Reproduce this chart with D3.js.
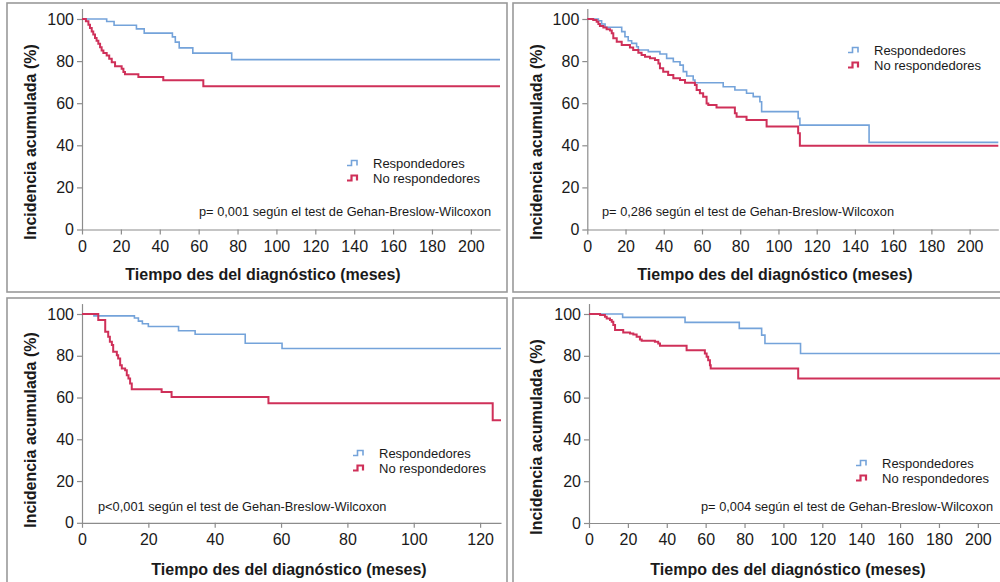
<!DOCTYPE html>
<html>
<head>
<meta charset="utf-8">
<script src="https://cdn.jsdelivr.net/npm/d3@7"></script>
<style>
body { margin: 0; background: #fff; }
svg text { font-family: "Liberation Sans", Arial, sans-serif; fill: #1a1a1a; }
.axis path, .axis line { stroke: #8c8c8c; stroke-width: 1.2; }
.title { font-weight: bold; font-size: 16px; }
.legend text { font-size: 13px; }
.ptext { font-size: 12.8px; }
</style>
</head>
<body>
<div class="chart"></div>
<script>
const WIDTH = 1000;
const HEIGHT = 582;
const BLUE = "#74a3da";
const RED = "#cf3059";

var seriesNames = ["Respondedores", "No respondedores"];
var xTitle = "Tiempo des del diagnóstico (meses)";
var yTitle = "Incidencia acumulada (%)";
var yTicks = [0, 20, 40, 60, 80, 100];
var xTicksLong = [0, 20, 40, 60, 80, 100, 120, 140, 160, 180, 200];
var xTicksShort = [0, 20, 40, 60, 80, 100, 120];
var xMaxLong = 215;
var xMaxShort = 126.3;
var pTexts = [
    "p= 0,001 según el test de Gehan-Breslow-Wilcoxon",
    "p= 0,286 según el test de Gehan-Breslow-Wilcoxon",
    "p<0,001 según el test de Gehan-Breslow-Wilcoxon",
    "p= 0,004 según el test de Gehan-Breslow-Wilcoxon"
];

// [meses, %] steps
var resp1 = [[0,100],[12.7,98.8],[16.5,97.0],[28,95.3],[32,93.3],[46.5,91.5],[48,89],[50,86.3],[57,83.8],[77,80.7]];
var noResp1 = [[0,100],[2,98.9],[3.3,97.3],[4.1,95.7],[5,94.1],[5.8,92.6],[6.7,91],[7.5,89.7],[8.4,88.2],[9.3,86.6],[10.1,85],[11,83.8],[12.7,82.7],[14,81.1],[15.3,79.5],[17,77.5],[20.4,76.4],[21.3,74.8],[22.1,73.7],[29,72.4],[41.8,70.9],[62.4,68]];

var resp2 = [[0,100],[5.8,99.2],[7.5,97.6],[9.3,96.1],[18,94],[19.7,91.6],[21.4,89.7],[23.2,88.4],[25.8,86.8],[26.7,85.3],[31.9,84.5],[38,83.4],[41.5,81.3],[45,79.7],[48.5,78.1],[50.2,75],[52,72.9],[55.4,71],[56.3,69.7],[71.1,67.8],[77.2,66.3],[83.3,64.7],[86.8,63.1],[90.3,60.7],[91.2,56],[110.3,52.8],[111.2,49.6],[147.4,41.4]];
var noResp2 = [[0,100],[3.1,99.5],[4.9,98.7],[5.8,97.6],[6.6,96.7],[8.4,96],[10.1,95.1],[11.9,94.5],[12.8,93.2],[13.6,90.8],[15.4,89.2],[18,87.6],[22.3,86.5],[24,85.3],[26.7,84],[28.4,82.9],[30.2,82.1],[32.8,81.3],[35.4,80.5],[37.2,78.9],[38,76.6],[39.7,75],[42.3,73.4],[45,71.8],[48.5,71],[51.1,69.7],[56.3,68.6],[57.2,66.3],[58.9,64.7],[60.6,63.1],[62.4,59.9],[63.3,59.1],[67.6,58],[77.2,55.2],[78.1,53.6],[83.3,52],[93.8,48.9],[110.3,45.7],[111.2,39.8]];

var resp3 = [[0,100],[3.6,99.1],[15.8,98.1],[17,96.6],[18.2,95.3],[20,94],[29.1,92],[34.1,90.3],[49.2,86],[60.3,83.5]];
var noResp3 = [[0,100],[4.9,97.1],[7,91.5],[7.9,89.1],[8.4,86.7],[9,85.1],[9.4,81.9],[10.5,80.3],[10.9,78.7],[11.5,75.5],[12,73.9],[13,73.1],[13.5,70.7],[14,69.1],[14.5,66.7],[15,64],[24,62.6],[27,60.3],[56.2,57.3],[123.8,49.1]];

var resp4 = [[0,100],[17.3,98.4],[49.4,96],[77.3,93.1],[88.8,89.9],[90.5,85.9],[108.8,81.1]];
var noResp4 = [[0,100],[5.7,99.5],[8.2,98.7],[9.1,97.9],[10.8,97.1],[11.7,96.3],[12.5,94.7],[13.4,92.3],[17.6,91.2],[21.1,90.7],[22.8,90.2],[24.5,89.1],[26.2,87.8],[27.1,87.2],[33.9,86.7],[35.6,85.9],[36.5,84.8],[50.2,82.7],[59.6,81.1],[60.5,79.5],[61.3,77.9],[62.2,75.5],[62.6,73.9],[107.6,69.1]];

// layout of each panel (offsets inside the panel box)
var panels = [
    { x: 7,   y: 3,   w: 500, h: 289, plotX: 75,   plotW: 418, y0: 226.5, y100: 16, xMax: xMaxLong,  ticks: xTicksLong,  resp: resp1, noResp: noResp1, p: pTexts[0], pX: 192, legX: 366, legY: 164.5, xtX: 256, ytY: 139 },
    { x: 513, y: 3,   w: 500, h: 289, plotX: 74.3, plotW: 411, y0: 226.5, y100: 16, xMax: xMaxLong,  ticks: xTicksLong,  resp: resp2, noResp: noResp2, p: pTexts[1], pX: 89,  legX: 361, legY: 51.5,  xtX: 262, ytY: 139 },
    { x: 7,   y: 298, w: 500, h: 300, plotX: 75,   plotW: 419, y0: 224.8, y100: 16, xMax: xMaxShort, ticks: xTicksShort, resp: resp3, noResp: noResp3, p: pTexts[2], pX: 91,  legX: 372, legY: 159.5, xtX: 282, ytY: 132 },
    { x: 513, y: 298, w: 500, h: 300, plotX: 76,   plotW: 418, y0: 225,   y100: 16, xMax: xMaxLong,  ticks: xTicksLong,  resp: resp4, noResp: noResp4, p: pTexts[3], pX: 188, legX: 369, legY: 169.5, xtX: 275, ytY: 139 }
];

var translate = function (x, y) {
    return "translate(" + x + "," + y + ")";
};

var svg = d3.select(".chart").append("svg")
    .attr("width", WIDTH)
    .attr("height", HEIGHT);

var drawPanel = function (cfg) {
    var g = svg.append("g").attr("transform", translate(cfg.x, cfg.y));

    g.append("rect")
        .attr("x", 0).attr("y", 0)
        .attr("width", cfg.w).attr("height", cfg.h)
        .attr("fill", "none")
        .attr("stroke", "#9a9a9a")
        .attr("stroke-width", 1.6);

    var xScale = d3.scaleLinear()
        .domain([0, cfg.xMax])
        .range([cfg.plotX, cfg.plotX + cfg.plotW]);

    var unit = (cfg.y0 - cfg.y100) / 100;
    var yScale = d3.scaleLinear()
        .domain([0, 105])
        .range([cfg.y0, cfg.y0 - 105 * unit]);

    var xAxis = d3.axisBottom(xScale)
        .tickValues(cfg.ticks)
        .tickSizeInner(5).tickSizeOuter(0).tickPadding(6)
        .tickFormat(d3.format("d"));
    var yAxis = d3.axisLeft(yScale)
        .tickValues(yTicks)
        .tickSizeInner(5).tickSizeOuter(0).tickPadding(3)
        .tickFormat(d3.format("d"));

    g.append("g")
        .attr("class", "axis")
        .attr("transform", translate(0, cfg.y0))
        .call(xAxis);
    g.append("g")
        .attr("class", "axis")
        .attr("transform", translate(cfg.plotX, 0))
        .call(yAxis);

    g.selectAll(".axis")
        .attr("font-family", null)
        .attr("font-size", null);
    g.selectAll(".axis text")
        .style("font-size", "16px")
        .style("fill", "#1a1a1a");

    var line = d3.line()
        .x(function (d) { return xScale(d[0]); })
        .y(function (d) { return yScale(d[1]); })
        .curve(d3.curveStepAfter);

    var withEnd = function (pts) {
        return pts.concat([[cfg.xMax, pts[pts.length - 1][1]]]);
    };

    g.append("path")
        .attr("d", line(withEnd(cfg.resp)))
        .attr("fill", "none")
        .attr("stroke", BLUE)
        .attr("stroke-width", 1.6);
    g.append("path")
        .attr("d", line(withEnd(cfg.noResp)))
        .attr("fill", "none")
        .attr("stroke", RED)
        .attr("stroke-width", 2);

    // legend
    var leg = g.append("g").attr("class", "legend");
    [BLUE, RED].forEach(function (c, i) {
        var by = cfg.legY + i * 15;
        leg.append("path")
            .attr("d", "M" + (cfg.legX - 26) + "," + (by - 2) + "h4.5v-5h5.5v5")
            .attr("fill", "none")
            .attr("stroke", c)
            .attr("stroke-width", i === 0 ? 1.6 : 2.2);
        leg.append("text")
            .attr("x", cfg.legX)
            .attr("y", by)
            .text(seriesNames[i]);
    });

    g.append("text")
        .attr("class", "ptext")
        .attr("x", cfg.pX)
        .attr("y", 213)
        .text(cfg.p);

    g.append("text")
        .attr("class", "title")
        .attr("text-anchor", "middle")
        .attr("x", cfg.xtX)
        .attr("y", 277)
        .text(xTitle);

    g.append("text")
        .attr("class", "title")
        .attr("text-anchor", "middle")
        .attr("transform", translate(29, cfg.ytY) + " rotate(-90)")
        .text(yTitle);
};

panels.forEach(drawPanel);
</script>
</body>
</html>
